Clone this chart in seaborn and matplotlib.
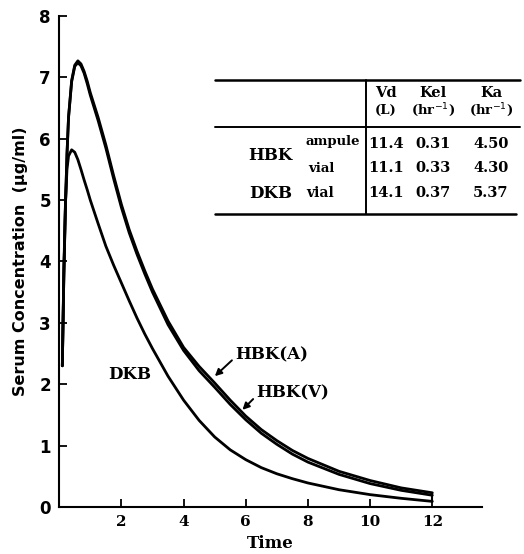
import numpy as np
import pandas as pd
import seaborn as sns
import matplotlib
matplotlib.use("Agg")
import matplotlib.pyplot as plt

# ---- data ----
time = [0.1, 0.15, 0.2, 0.25, 0.3, 0.4, 0.5, 0.6, 0.7, 0.8, 0.9, 1.0, 1.25, 1.5,
        1.75, 2.0, 2.25, 2.5, 2.75, 3.0, 3.5, 4.0, 4.5, 5.0, 5.5, 6.0, 6.5, 7.0,
        7.5, 8.0, 9.0, 10.0, 11.0, 12.0]
hbk_a = [2.3, 3.8, 4.9, 5.75, 6.35, 6.95, 7.2, 7.27, 7.22, 7.1, 6.94, 6.75, 6.35, 5.9,
         5.4, 4.93, 4.52, 4.17, 3.85, 3.55, 3.03, 2.6, 2.29, 2.02, 1.74, 1.48, 1.26, 1.08,
         0.92, 0.79, 0.58, 0.43, 0.31, 0.23]
hbk_v = [2.3, 3.8, 4.9, 5.75, 6.35, 6.93, 7.18, 7.24, 7.19, 7.07, 6.9, 6.71, 6.3, 5.85,
         5.35, 4.88, 4.47, 4.12, 3.8, 3.5, 2.97, 2.55, 2.22, 1.95, 1.67, 1.42, 1.2, 1.02,
         0.86, 0.73, 0.53, 0.38, 0.27, 0.19]
dkb = [2.3, 3.9, 4.95, 5.5, 5.72, 5.82, 5.78, 5.66, 5.5, 5.33, 5.17, 5.0, 4.62, 4.25,
       3.94, 3.65, 3.36, 3.08, 2.82, 2.58, 2.13, 1.74, 1.41, 1.14, 0.93, 0.77, 0.64, 0.54,
       0.46, 0.39, 0.28, 0.2, 0.14, 0.09]

x_ticks = [2, 4, 6, 8, 10, 12]
y_ticks = [0, 1, 2, 3, 4, 5, 6, 7, 8]

table_header = [("Vd", "(L)"), ("Kel", "(hr$^{-1}$)"), ("Ka", "(hr$^{-1}$)")]
table_rows = [("ampule", "11.4", "0.31", "4.50"),
              ("vial", "11.1", "0.33", "4.30"),
              ("vial", "14.1", "0.37", "5.37")]

df = pd.DataFrame({
    "Time": time * 3,
    "Conc": hbk_a + hbk_v + dkb,
    "Drug": ["HBK(A)"] * len(time) + ["HBK(V)"] * len(time) + ["DKB"] * len(time),
})

sns.set_style("ticks")
plt.rcParams["font.family"] = ["DejaVu Serif"]
plt.rcParams["text.color"] = "black"
plt.rcParams["axes.labelcolor"] = "black"
plt.rcParams["xtick.color"] = "black"
plt.rcParams["ytick.color"] = "black"
plt.rcParams["axes.edgecolor"] = "black"

fig = plt.figure(figsize=(5.24, 5.54), dpi=100)
ax = fig.add_axes([0.113, 0.085, 0.807, 0.886])

sns.lineplot(data=df, x="Time", y="Conc", units="Drug", estimator=None,
             color="black", linewidth=2.0, ax=ax, legend=False,
             solid_joinstyle="round", solid_capstyle="round")
# end caps at t=12
ax.plot([time[-1], time[-1]], [dkb[-1], hbk_a[-1]], color="black", lw=1.5)

ax.set_xlim(0, 13.6)
ax.set_ylim(0, 8)
ax.set_xticks(x_ticks)
ax.set_yticks(y_ticks)
ax.set_xticklabels([str(t) for t in x_ticks], fontsize=11, fontweight="bold",
                   family="DejaVu Serif")
ax.set_yticklabels([str(t) for t in y_ticks], fontsize=12, fontweight="bold",
                   family="DejaVu Sans")
ax.tick_params(direction="in", length=6, width=1.3, pad=6)
sns.despine(ax=ax)
for s in ["left", "bottom"]:
    ax.spines[s].set_linewidth(1.5)

ax.set_xlabel("Time", fontsize=12, fontweight="bold", family="DejaVu Serif", labelpad=4)
ax.set_ylabel("Serum Concentration  (μg/ml)", fontsize=11.5, fontweight="bold",
              family="DejaVu Sans", labelpad=8)

# curve labels
ax.text(2.27, 2.15, "DKB", fontsize=12, fontweight="bold", ha="center", va="center")
ax.text(5.65, 2.48, "HBK(A)", fontsize=12, fontweight="bold", ha="left", va="center")
ax.text(6.35, 1.86, "HBK(V)", fontsize=12, fontweight="bold", ha="left", va="center")
ax.annotate("", xy=(4.94, 2.1), xytext=(5.62, 2.42),
            arrowprops=dict(arrowstyle="-|>", color="black", lw=1.4))
ax.annotate("", xy=(5.83, 1.55), xytext=(6.3, 1.79),
            arrowprops=dict(arrowstyle="-|>", color="black", lw=1.4))

# ---- table drawn in figure pixel coordinates ----
W, H = 524, 554
def fx(px):
    return px / W
def fy(py):
    return 1 - py / H

line_kw = dict(color="black", transform=fig.transFigure)
fig.add_artist(plt.Line2D([fx(215), fx(520)], [fy(80), fy(80)], lw=1.8, **line_kw))
fig.add_artist(plt.Line2D([fx(215), fx(520)], [fy(127), fy(127)], lw=1.4, **line_kw))
fig.add_artist(plt.Line2D([fx(215), fx(516)], [fy(214), fy(214)], lw=1.8, **line_kw))
fig.add_artist(plt.Line2D([fx(366), fx(366)], [fy(80), fy(214)], lw=1.4, **line_kw))

col_x = [386, 433, 491]
tk = dict(ha="center", va="center", fontweight="bold", family="DejaVu Serif",
          color="black")
for (h1, h2), cx in zip(table_header, col_x):
    fig.text(fx(cx), fy(93), h1, fontsize=10.5, **tk)
    fig.text(fx(cx), fy(110), h2, fontsize=9.5, **tk)

row_y = [144, 168, 193]
for (lab, *vals), ry in zip(table_rows, row_y):
    for v, cx in zip(vals, col_x):
        fig.text(fx(cx), fy(ry), v, fontsize=10.5, **tk)
fig.text(fx(333), fy(141), table_rows[0][0], fontsize=9.5, **tk)
fig.text(fx(321), fy(168), table_rows[1][0], fontsize=9.5, **tk)
fig.text(fx(320), fy(193), table_rows[2][0], fontsize=10, **tk)
fig.text(fx(270), fy(156), "HBK", fontsize=12, **tk)
fig.text(fx(271), fy(193), "DKB", fontsize=12, **tk)

fig.savefig("out.png", dpi=100)
